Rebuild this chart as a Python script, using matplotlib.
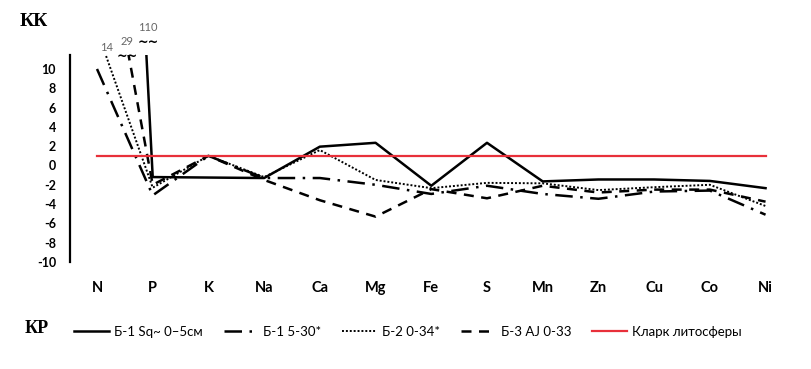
import matplotlib.pyplot as plt
import numpy as np

elements = ['N', 'P', 'K', 'Na', 'Ca', 'Mg', 'Fe', 'S', 'Mn', 'Zn', 'Cu', 'Co', 'Ni']

b1_sq = [110, -1.2, -1.25, -1.3, 1.95, 2.35, -2.1, 2.35, -1.65, -1.45, -1.45, -1.6, -2.35]
b1_530 = [10, -3.1, 1.0, -1.3, -1.3, -2.0, -2.95, -2.1, -2.95, -3.45, -2.7, -2.6, -5.1]
b2_034 = [14, -2.3, 1.0, -1.2, 1.6, -1.5, -2.35, -1.8, -1.85, -2.55, -2.25, -2.0, -4.2]
b3_033 = [29, -2.0, 1.0, -1.5, -3.6, -5.3, -2.45, -3.4, -2.1, -2.8, -2.5, -2.5, -3.75]
clarke = [1.0] * len(elements)

labels = ['Б-1 Sq~ 0–5см', 'Б-1 5-30*', 'Б-2 0-34*', 'Б-3 AJ 0-33', 'Кларк литосферы']
yticks = list(range(-10, 11, 2))

plt.rcParams['font.family'] = ['Lato', 'DejaVu Sans']

fig = plt.figure(figsize=(8.11, 3.69), dpi=100)
ax = fig.add_axes([0.0863, 0.29, 0.892, 0.561])

x = np.arange(len(elements))
ax.plot(x, b1_sq, color='black', lw=1.8, label=labels[0])
ax.plot(x, b1_530, color='black', lw=1.8, dashes=(7, 3, 1, 3), label=labels[1])
ax.plot(x, b2_034, color='black', lw=1.4, dashes=(1, 1), label=labels[2])
ax.plot(x, b3_033, color='black', lw=1.8, dashes=(4, 3), label=labels[3])
ax.plot(x, clarke, color='#e8303a', lw=1.6, label=labels[4])

ax.set_ylim(-10, 11.45)
ax.set_xlim(-0.485, 12.5)
ax.set_yticks(yticks)
ax.set_yticklabels([str(v) for v in yticks], fontweight='bold', fontsize=9)
ax.set_xticks(x)
ax.set_xticklabels(elements, fontweight='bold', fontsize=10.5)
ax.tick_params(axis='both', length=0)
ax.tick_params(axis='x', pad=14)
ax.tick_params(axis='y', pad=10)
for s in ['top', 'right', 'bottom']:
    ax.spines[s].set_visible(False)
ax.spines['left'].set_linewidth(1.6)

# values that run off the top of the axis
ax.text(0.18, 11.9, '14', color='#666666', fontsize=8, ha='center')
ax.text(0.54, 12.5, '29', color='#666666', fontsize=8, ha='center')
ax.text(0.92, 13.95, '110', color='#666666', fontsize=8, ha='center')
ax.text(0.54, 10.9, '~~', color='black', fontsize=9, ha='center', fontweight='bold',
        family='DejaVu Sans')
ax.text(0.92, 12.35, '~~', color='black', fontsize=9, ha='center', fontweight='bold',
        family='DejaVu Sans')

fig.text(0.024, 0.93, 'КК', fontsize=14, fontweight='bold', family='Liberation Serif')
fig.text(0.03, 0.098, 'КР', fontsize=13, fontweight='bold', family='Liberation Serif')

fig.legend(loc='center', bbox_to_anchor=(0.503, 0.1), ncol=5, frameon=False,
           fontsize=9.5, handlelength=2.6, columnspacing=1.6, handletextpad=0.4)

fig.savefig('out.png', dpi=100)
